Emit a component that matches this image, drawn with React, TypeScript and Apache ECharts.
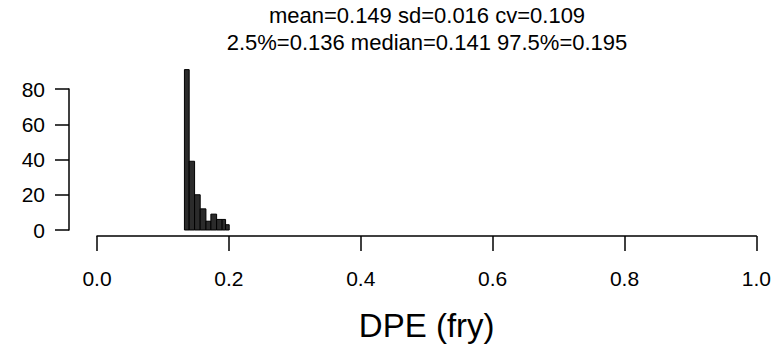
import React, { useEffect, useRef } from "react";
import * as echarts from "echarts";

const binEdges = [0.1326, 0.1398, 0.148, 0.1565, 0.1652, 0.1727, 0.1814, 0.1898, 0.195, 0.2005];
const counts = [91, 39, 20, 12, 5, 9, 6, 6, 3];
const xTicks = [0, 0.2, 0.4, 0.6, 0.8, 1.0];
const yTicks = [0, 20, 40, 60, 80];
const titleLines = [
  "mean=0.149 sd=0.016 cv=0.109",
  "2.5%=0.136 median=0.141 97.5%=0.195",
];
const xLabel = "DPE (fry)";

const FONT = "Liberation Sans, Arial, Helvetica, sans-serif";

export default function App() {
  const ref = useRef<HTMLDivElement>(null);
  useEffect(() => {
    document.body.style.margin = "0";
    const chart = echarts.init(ref.current!, null, { renderer: "svg" });
    const data = counts.map((c, i) => [binEdges[i], binEdges[i + 1], c]);
    chart.setOption({
      animation: false,
      backgroundColor: "#ffffff",
      textStyle: { fontFamily: FONT },
      graphic: titleLines.map((t, i) => ({
        type: "text",
        x: 427,
        y: 15 + i * 27,
        style: {
          text: t,
          fontSize: 22,
          fontFamily: FONT,
          fill: "#000",
          textAlign: "center",
          textVerticalAlign: "middle",
        },
      })),
      grid: { left: 97, right: 16, top: 89, bottom: 124 },
      xAxis: {
        type: "value",
        min: xTicks[0],
        max: xTicks[xTicks.length - 1],
        interval: 0.2,
        offset: 6,
        name: xLabel,
        nameLocation: "middle",
        nameGap: 73,
        nameTextStyle: { fontSize: 33, color: "#000", fontFamily: FONT },
        axisLine: { show: true, onZero: false, lineStyle: { color: "#000", width: 1.5 } },
        axisTick: { show: true, length: 15, lineStyle: { color: "#000", width: 1.5 } },
        axisLabel: {
          margin: 32,
          fontSize: 21,
          color: "#000",
          fontFamily: FONT,
          formatter: (v: number) => v.toFixed(1),
        },
        splitLine: { show: false },
      },
      yAxis: {
        type: "value",
        min: yTicks[0],
        max: yTicks[yTicks.length - 1],
        interval: 20,
        offset: 28,
        axisLine: { show: true, onZero: false, lineStyle: { color: "#000", width: 1.5 } },
        axisTick: { show: true, length: 14, lineStyle: { color: "#000", width: 1.5 } },
        axisLabel: { margin: 24, fontSize: 21, color: "#000", fontFamily: FONT },
        splitLine: { show: false },
      },
      series: [
        {
          type: "custom",
          clip: false,
          encode: { x: [0, 1], y: 2 },
          data,
          renderItem: (params: any, api: any) => {
            const x0 = api.value(0);
            const x1 = api.value(1);
            const c = api.value(2);
            const p0 = api.coord([x0, c]);
            const p1 = api.coord([x1, 0]);
            return {
              type: "rect",
              shape: { x: p0[0], y: p0[1], width: p1[0] - p0[0], height: p1[1] - p0[1] },
              style: { fill: "#2b2b2b", stroke: "#000", lineWidth: 1 },
            };
          },
        },
      ],
    });
    return () => chart.dispose();
  }, []);
  return <div ref={ref} style={{ width: 774, height: 354 }} />;
}
